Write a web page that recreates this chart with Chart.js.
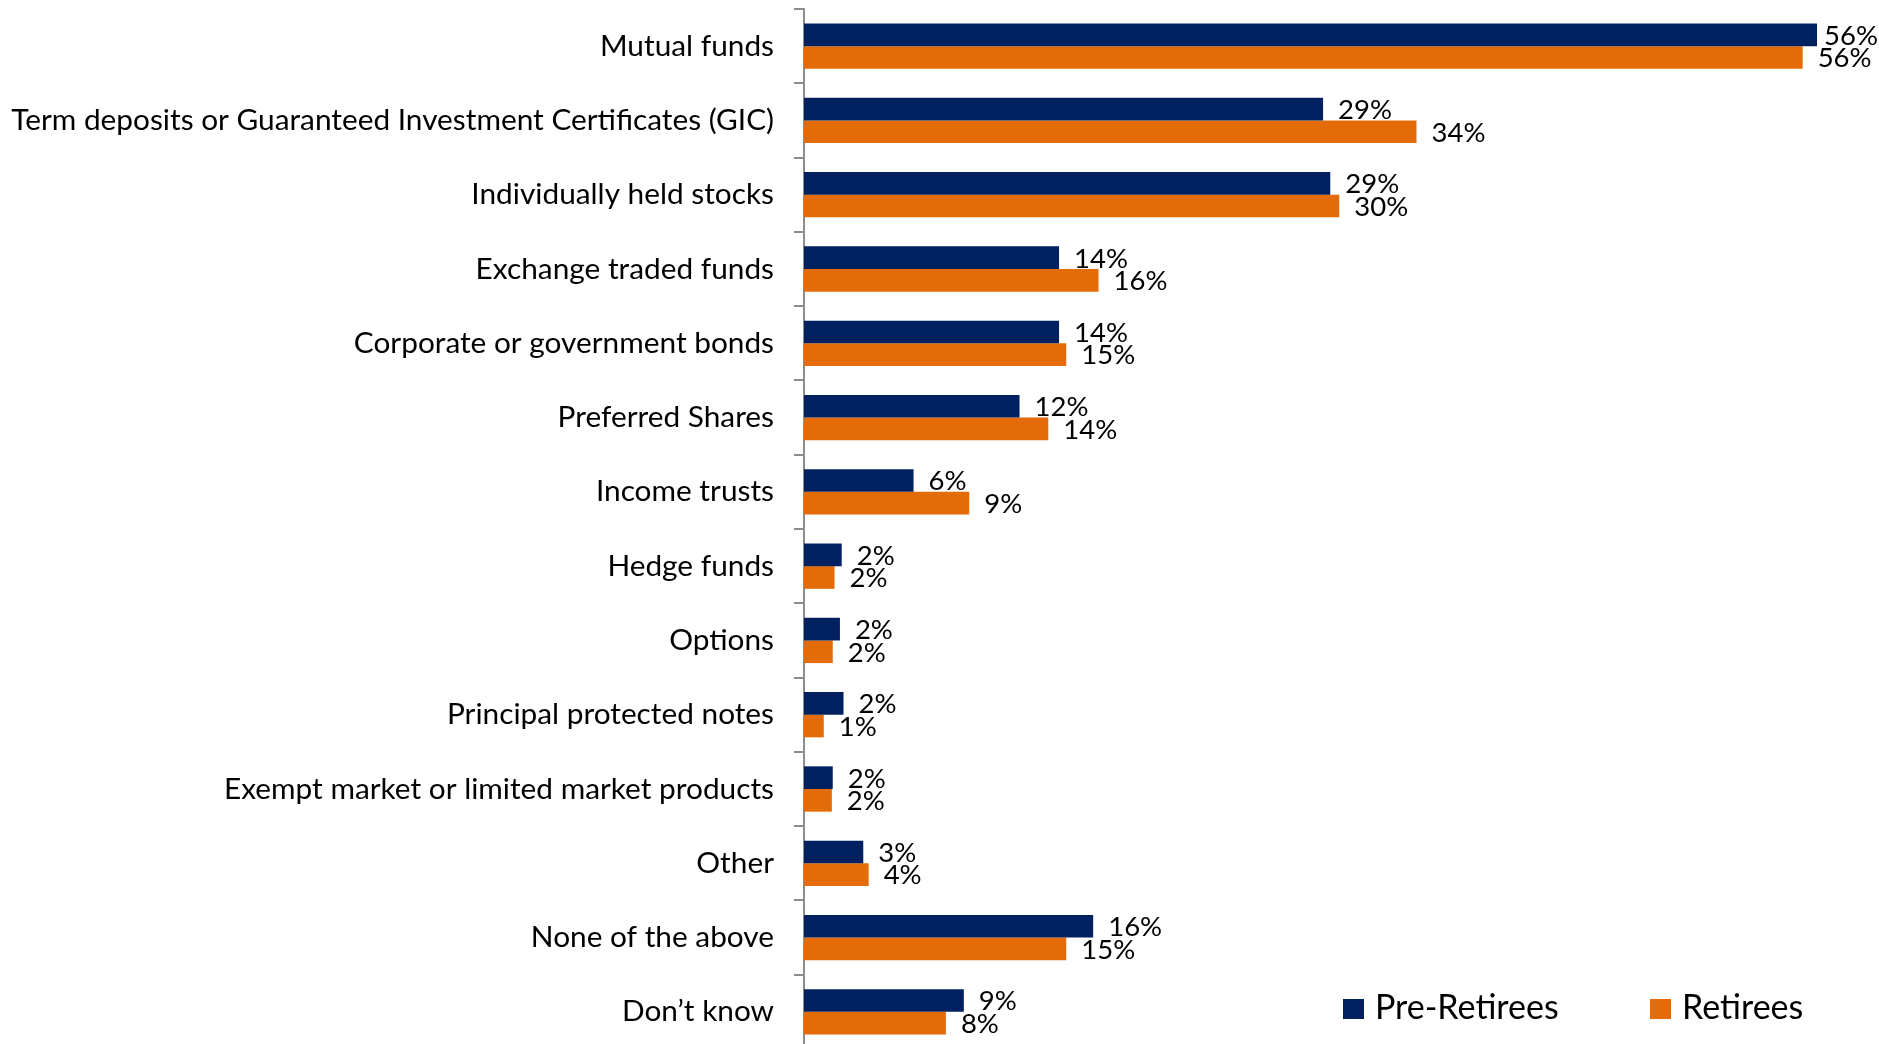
<!DOCTYPE html>
<html>
<head>
<meta charset="utf-8">
<script src="https://cdn.jsdelivr.net/npm/chart.js@4.4.1/dist/chart.umd.min.js"></script>
<style>
    body { margin: 0; overflow: hidden; background: #fff; }
    #wrap { width: 1879px; height: 1050px; position: relative; }
</style>
</head>
<body>
<div id="wrap"><canvas id="holdingsChart"></canvas></div>
<script>
var categories = [
    "Mutual funds",
    "Term deposits or Guaranteed Investment Certificates (GIC)",
    "Individually held stocks",
    "Exchange traded funds",
    "Corporate or government bonds",
    "Preferred Shares",
    "Income trusts",
    "Hedge funds",
    "Options",
    "Principal protected notes",
    "Exempt market or limited market products",
    "Other",
    "None of the above",
    "Don’t know"
];
var seriesNames = ["Pre-Retirees", "Retirees"];
var preRetirees = [56.4, 28.9, 29.3, 14.2, 14.2, 12.0, 6.1, 2.1, 2.0, 2.2, 1.6, 3.3, 16.1, 8.9];
var retirees = [55.6, 34.1, 29.8, 16.4, 14.6, 13.6, 9.2, 1.7, 1.6, 1.1, 1.55, 3.6, 14.6, 7.9];
var seriesColors = ["#002060", "#E36C09"];

var FONT = "Lato, 'Open Sans', sans-serif";

// percent labels at the end of each bar
var valueLabels = {
    id: 'valueLabels',
    afterDatasetsDraw: function (chart) {
        var ctx = chart.ctx;
        ctx.save();
        ctx.font = "27.5px " + FONT;
        ctx.fillStyle = "#000";
        ctx.textAlign = "left";
        ctx.textBaseline = "middle";
        chart.data.datasets.forEach(function (ds, i) {
            var meta = chart.getDatasetMeta(i);
            meta.data.forEach(function (bar, j) {
                var txt = Math.round(ds.data[j]) + "%";
                var w = ctx.measureText(txt).width;
                var x = Math.min(bar.x + 15, chart.width - w - 1);
                ctx.fillText(txt, x, bar.y + 1);
            });
        });
        ctx.restore();
    }
};

// legend sits inside the plot, bottom right
var cornerLegend = {
    id: 'cornerLegend',
    afterDraw: function (chart) {
        var ctx = chart.ctx;
        var xs = [1343, 1650];
        var y = 999;
        ctx.save();
        ctx.font = "34px " + FONT;
        ctx.textBaseline = "alphabetic";
        chart.data.datasets.forEach(function (ds, i) {
            ctx.fillStyle = ds.backgroundColor;
            ctx.fillRect(xs[i], y, 21, 20);
            ctx.fillStyle = "#000";
            ctx.fillText(ds.label, xs[i] + 32, y + 20);
        });
        ctx.restore();
    }
};

document.addEventListener('DOMContentLoaded', function () {
    var chart = new Chart(document.getElementById("holdingsChart"), {
        type: 'bar',
        data: {
            labels: categories,
            datasets: [{
                label: seriesNames[0],
                backgroundColor: seriesColors[0],
                data: preRetirees
            }, {
                label: seriesNames[1],
                backgroundColor: seriesColors[1],
                data: retirees
            }]
        },
        options: {
            indexAxis: 'y',
            responsive: true,
            maintainAspectRatio: false,
            animation: false,
            layout: { padding: { top: 9, bottom: 1, left: 0, right: 0 } },
            datasets: {
                bar: { categoryPercentage: 0.61, barPercentage: 1.0 }
            },
            scales: {
                x: {
                    display: false,
                    min: 0,
                    max: 59.85
                },
                y: {
                    afterFit: function (scale) {
                        scale.width = 804;
                        scale.paddingTop = 0;
                        scale.paddingBottom = 0;
                    },
                    border: { display: true, color: '#8c8c8c', width: 2 },
                    grid: {
                        drawOnChartArea: false,
                        drawTicks: true,
                        tickLength: 10,
                        color: '#8c8c8c',
                        lineWidth: 2,
                        offset: true
                    },
                    ticks: {
                        color: '#000',
                        padding: 20,
                        font: { family: FONT, size: 29.8 }
                    }
                }
            },
            plugins: {
                legend: { display: false },
                tooltip: { enabled: false }
            }
        },
        plugins: [valueLabels, cornerLegend]
    });
});
</script>
</body>
</html>
